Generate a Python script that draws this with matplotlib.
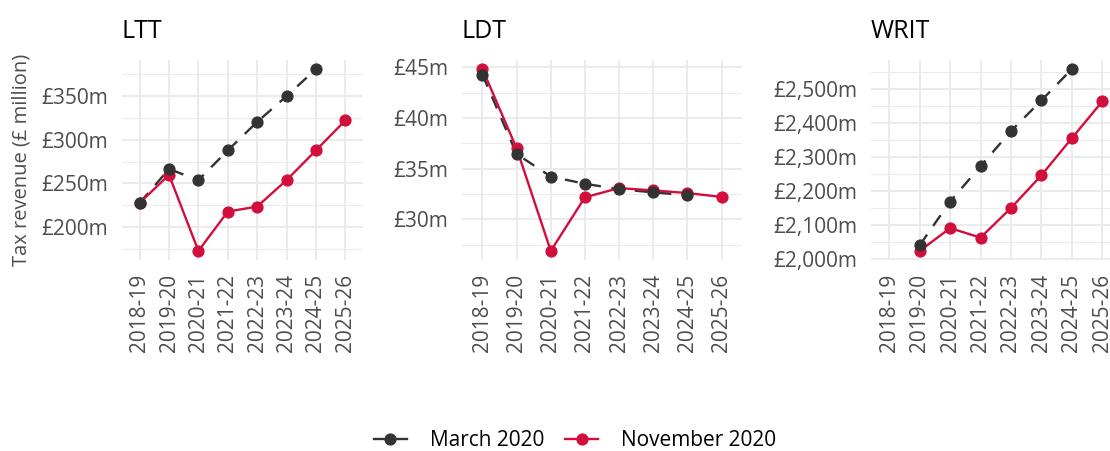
import matplotlib
matplotlib.use("Agg")
import matplotlib.pyplot as plt
import numpy as np
from matplotlib.lines import Line2D

years = ["2018-19", "2019-20", "2020-21", "2021-22", "2022-23", "2023-24", "2024-25", "2025-26"]

ltt_march = [227.7, 266.5, 253.8, 287.9, 320.5, 350.0, 381.0, None]
ltt_nov = [227.7, 259.8, 172.7, 217.8, 223.5, 253.8, 287.9, 322.3]

ldt_march = [44.28, 36.46, 34.24, 33.52, 33.0, 32.67, 32.41, None]
ldt_nov = [44.84, 37.01, 26.9, 32.19, 33.1, 32.87, 32.61, 32.22]

writ_march = [None, 2040.6, 2169.0, 2272.5, 2376.0, 2466.0, 2558.0, None]
writ_nov = [None, 2024.0, 2091.0, 2063.0, 2150.0, 2246.0, 2355.0, 2463.0]

ltt_ticks = [200, 250, 300, 350]
ldt_ticks = [30, 35, 40, 45]
writ_ticks = [2000, 2100, 2200, 2300, 2400, 2500]

titles = ["LTT", "LDT", "WRIT"]
series_names = ["March 2020", "November 2020"]
ylabel = "Tax revenue (£ million)"

DARK = "#333333"
RED = "#D20F3C"
GRID = "#EBEBEB"
TICKC = "#4D4D4D"
FONT = "Open Sans"
TFS = 15
LW = 1.7
MS = 7.8

W, H = 1110, 451
fig = plt.figure(figsize=(W / 100, H / 100), dpi=100)

def px_axes(x0, x1, y0, y1):
    return fig.add_axes([x0 / W, 1 - y1 / H, (x1 - x0) / W, (y1 - y0) / H])

def to_arr(v):
    return np.array([np.nan if a is None else a for a in v], dtype=float)

panels = [
    (px_axes(122, 363, 60, 260), ltt_march, ltt_nov, ltt_ticks),
    (px_axes(462, 742, 60, 260), ldt_march, ldt_nov, ldt_ticks),
    (px_axes(871, 1120.5, 60, 260), writ_march, writ_nov, writ_ticks),
]

x = np.arange(len(years))
for i, (ax, m, n, ticks) in enumerate(panels):
    m = to_arr(m)
    n = to_arr(n)

    ax.plot(x, m, color=DARK, lw=LW, dashes=(5.5, 4.5), zorder=3)
    ax.plot(x, n, color=RED, lw=LW, zorder=3)
    ax.plot(x, n, "o", color=RED, ms=MS, zorder=4)
    ax.plot(x, m, "o", color=DARK, ms=MS, zorder=5)

    ax.set_xticks(x)
    ax.set_xticklabels(years, rotation=90, fontsize=TFS, color=TICKC, family=FONT)
    ax.set_yticks(ticks)
    ax.set_yticklabels([f"£{t:,}m" for t in ticks], fontsize=TFS, color=TICKC, family=FONT)
    step = ticks[1] - ticks[0]
    minors = [t + step / 2 for t in ticks] + [ticks[0] - step / 2]
    ax.set_yticks(minors, minor=True)

    allv = np.concatenate([m[~np.isnan(m)], n[~np.isnan(n)]])
    lo, hi = allv.min(), allv.max()
    pad = 0.05 * (hi - lo)
    ax.set_ylim(lo - pad, hi + pad)
    ax.set_xlim(-0.6, len(years) - 0.4)

    ax.tick_params(axis="both", which="both", length=0, pad=10)
    ax.grid(True, which="major", color=GRID, lw=1.4, zorder=0)
    ax.grid(True, which="minor", axis="y", color=GRID, lw=0.8, zorder=0)
    ax.set_axisbelow(True)
    for s in ax.spines.values():
        s.set_visible(False)
    ax.text(0, 1.08, titles[i], transform=ax.transAxes, fontsize=18, family=FONT,
            color="black", ha="left", va="bottom")

fig.text(22 / W, 1 - 160 / H, ylabel, rotation=90, ha="center", va="center",
         fontsize=14.5, color=TICKC, family=FONT)

handles = [
    Line2D([0], [0], color=DARK, lw=LW, marker="o", ms=MS),
    Line2D([0], [0], color=RED, lw=LW, marker="o", ms=MS),
]
fig.legend(handles, series_names, loc="center", bbox_to_anchor=(575 / W, 1 - 441 / H),
           ncol=2, frameon=False, prop={"family": FONT, "size": TFS},
           handlelength=1.6, handletextpad=1.1, columnspacing=1.0, labelcolor="black")

fig.savefig("out.png", dpi=100, facecolor="white")
